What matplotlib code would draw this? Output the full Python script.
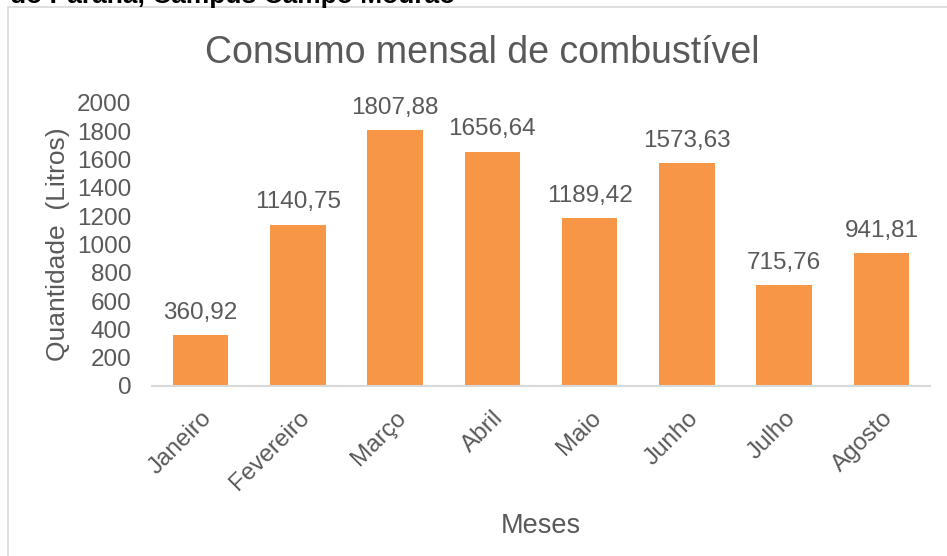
import matplotlib.pyplot as plt
from matplotlib.patches import Rectangle

plt.rcParams['font.family'] = ['Liberation Sans', 'DejaVu Sans']

# dados do grafico
meses = ['Janeiro', 'Fevereiro', 'Março', 'Abril', 'Maio', 'Junho', 'Julho', 'Agosto']
consumo = [360.92, 1140.75, 1807.88, 1656.64, 1189.42, 1573.63, 715.76, 941.81]
y_ticks = [0, 200, 400, 600, 800, 1000, 1200, 1400, 1600, 1800, 2000]

cor_barra = '#F79646'
cor_texto = '#595959'
cor_linha = '#D9D9D9'

fig = plt.figure(figsize=(9.47, 5.56), dpi=100)
ax = fig.add_axes([152 / 947, 1 - 386 / 556, 778 / 947, 283 / 556])

x = list(range(len(meses)))
ax.bar(x, consumo, width=0.57, color=cor_barra, zorder=2)

# rotulos de dados no formato brasileiro
for xi, v in zip(x, consumo):
	txt = ('%.2f' % v).replace('.', ',')
	ax.annotate(txt, (xi, v), xytext=(0, 8), textcoords='offset points',
				ha='center', va='bottom', fontsize=17.5, color=cor_texto)

ax.set_xlim(-0.5, len(meses) - 0.5)
ax.set_ylim(0, 2000)
ax.set_yticks(y_ticks)
ax.set_yticklabels([str(t) for t in y_ticks], fontsize=17.5, color=cor_texto)
ax.set_xticks(x)
ax.set_xticklabels(meses, rotation=45, ha='right', rotation_mode='anchor',
				   fontsize=17.5, color=cor_texto)
ax.tick_params(axis='both', length=0)
ax.tick_params(axis='y', pad=15)
ax.tick_params(axis='x', pad=15)

for s in ['top', 'right', 'left']:
	ax.spines[s].set_visible(False)
ax.spines['bottom'].set_color(cor_linha)
ax.spines['bottom'].set_linewidth(1.5)

ax.set_xlabel('Meses', fontsize=19.5, color=cor_texto, labelpad=0)
ax.xaxis.set_label_coords(0.5, -0.45)
ax.set_ylabel('Quantidade  (Litros)', fontsize=19, color=cor_texto)
ax.yaxis.set_label_coords(-0.105, 0.5)

fig.text(482 / 947, 1 - 53 / 556, 'Consumo mensal de combustível',
		 ha='center', va='center', fontsize=27, color=cor_texto)

# borda do grafico
fig.patches.append(Rectangle((8 / 947, -0.01), 1.0, 1 - 7 / 556 + 0.01,
							 transform=fig.transFigure, fill=False,
							 edgecolor=cor_linha, linewidth=1.2))

# texto cortado do documento original (so aparece a parte de baixo)
fig.text(10 / 947, 1 - 3 / 556, 'do Paraná, Campus Campo Mourão',
		 ha='left', va='baseline', fontsize=19, fontweight='bold', color='black')

fig.savefig('out.png', dpi=100)
